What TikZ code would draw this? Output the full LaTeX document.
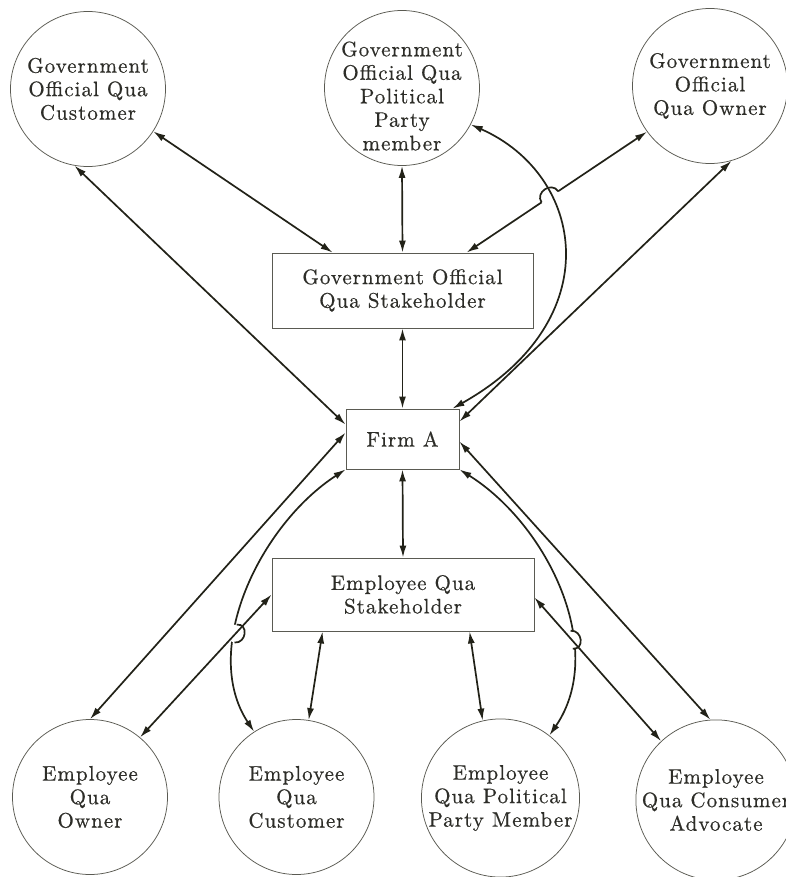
\documentclass[tikz,border=0pt]{standalone}
\usepackage{fontspec}
\setmainfont{lmroman10-regular.otf}[LetterSpace=5,FakeBold=0.5]
\usetikzlibrary{arrows.meta,calc,intersections}
\definecolor{ink}{RGB}{34,34,24}
\definecolor{rim}{RGB}{90,90,82}
\definecolor{txt}{RGB}{45,45,40}
\begin{document}
\begin{tikzpicture}[x=1pt,y=-1pt,
  label font/.style={font=\fontsize{21}{23.5}\selectfont},
  role/.style={circle,draw=rim,line width=0.75pt,minimum size=155pt,inner sep=0pt,
    align=center,text=txt,label font},
  roletext/.style={inner sep=0pt,align=center,text=txt,label font},
  hub/.style={rectangle,draw=rim,line width=0.85pt,inner sep=0pt,align=center,
    text=txt,label font},
  link/.style={draw=ink,line width=1.7pt,<->,>={Latex[length=12pt,width=7pt]}},
  hop/.style={draw=ink,line width=1.7pt},
  gap/.style={fill=white}
]
\fill[white] (0,0) rectangle (785,877);
\useasboundingbox (0,0) rectangle (785,877);

% government official roles
\node[role] (GOC) at (88,89) {Government\\Official Qua\\Customer};
\node[role] (GOP) at (402,88) {};
\node[roletext] (GOPtext) at (402,96) {Government\\Official Qua\\Political\\Party\\member};
\node[role] (GOO) at (710,86) {Government\\Official\\Qua Owner};

% central boxes
\node[hub,minimum width=261pt,minimum height=75pt] (GovBox) at (402.5,290.5) {Government Official\\Qua Stakeholder};
\node[hub,minimum width=113pt,minimum height=60pt] (FirmA) at (402.5,439) {Firm A};
\node[hub,minimum width=262pt,minimum height=73pt] (EmpBox) at (403,594.5) {Employee Qua\\Stakeholder};

% employee roles
\node[role] (EO) at (90,797) {Employee\\Qua\\Owner};
\node[role] (EC) at (296.5,797) {Employee\\Qua\\Customer};
\node[role] (EP) at (500.5,798) {Employee\\Qua Political\\Party Member};
\node[role] (ECA) at (716,800) {Employee\\Qua Consumer\\Advocate};

% attachment points on the boxes
\coordinate (GovL) at ($(GovBox.north west)+(61,0)$);
\coordinate (GovR) at ($(GovBox.north west)+(195,0)$);
\coordinate (FirmL1) at ($(FirmA.north west)+(0,16)$);
\coordinate (FirmL2) at ($(FirmA.north west)+(0,24)$);
\coordinate (FirmT) at ($(FirmA.north east)+(-7,0)$);
\coordinate (FirmR1) at ($(FirmA.north east)+(0,13)$);
\coordinate (FirmR2) at ($(FirmA.north east)+(0,33)$);
\coordinate (EmpB1) at ($(EmpBox.south west)+(51,0)$);
\coordinate (EmpB2) at ($(EmpBox.south west)+(198,0)$);
\coordinate (EmpR) at ($(EmpBox.east)+(0,3)$);

% plain two-way links
\draw[link] (GOC.-33) -- (GovL);
\draw[link] (GOC.-100) -- (FirmL1);
\draw[link] (GOP.south) -- (GovBox.north);
\draw[link] (GOO.-74) -- (FirmR1);
\draw[link] (GovBox.south) -- (FirmA.north);
\draw[link] (FirmA.south) -- (EmpBox.north);
\draw[link] (EO.north) -- (FirmL2);
\draw[link] (EmpB1) -- (EC.81);
\draw[link] (EmpB2) -- (EP.103);
\draw[link] (ECA.94) -- (FirmR2);

% top crossing: owner link hops over the party-member curve
\path[name path=ownerline] (GOO.-144) -- (GovR);
\path[name path=partycurve] (GOP.-28) .. controls (585,175) and (610,320) .. (FirmT);
\path[name intersections={of=ownerline and partycurve,by=Xtop}];
\draw[link] (GOO.-144) -- (GovR);
\fill[gap] (Xtop) circle (10pt);
\draw[link] (GOP.-28) .. controls (585,175) and (610,320) .. (FirmT);
\coordinate (XtopA) at ($(Xtop)!10pt!(GOO.-144)$);
\coordinate (XtopB) at ($(Xtop)!10pt!(GovR)$);
\draw[hop] (XtopA) .. controls ($(XtopA)!12pt!-90:(Xtop)$) and ($(XtopB)!12pt!90:(Xtop)$) .. (XtopB);

% lower left crossing: customer curve hops over the owner link
\path[name path=custcurve] (FirmA.south west) .. controls (260,525) and (200,650) .. (EC.123);
\path[name path=ownlink] (EmpBox.west) -- (EO.50);
\path[name intersections={of=custcurve and ownlink,by=Xbl}];
\draw[link] (FirmA.south west) .. controls (260,525) and (200,650) .. (EC.123);
\fill[gap] (Xbl) circle (9pt);
\draw[link] (EmpBox.west) -- (EO.50);
\coordinate (XblA) at ($(Xbl)+(1.1,-9)$);
\coordinate (XblB) at ($(Xbl)+(-1.1,9)$);
\draw[hop] (XblA) .. controls ($(XblA)+(12,-1)$) and ($(XblB)+(12,1)$) .. (XblB);

% lower right crossing: party-member curve hops over the advocate link
\path[name path=polcurve] (FirmA.south east) .. controls (548,525) and (608,650) .. (EP.52);
\path[name path=advlink] (EmpR) -- (ECA.133);
\path[name intersections={of=polcurve and advlink,by=Xbr}];
\draw[link] (FirmA.south east) .. controls (548,525) and (608,650) .. (EP.52);
\fill[gap] (Xbr) circle (9pt);
\draw[link] (EmpR) -- (ECA.133);
\coordinate (XbrA) at ($(Xbr)+(-1.1,-9)$);
\coordinate (XbrB) at ($(Xbr)+(1.1,9)$);
\draw[hop] (XbrA) .. controls ($(XbrA)+(12,-1)$) and ($(XbrB)+(12,1)$) .. (XbrB);
\end{tikzpicture}
\end{document}
